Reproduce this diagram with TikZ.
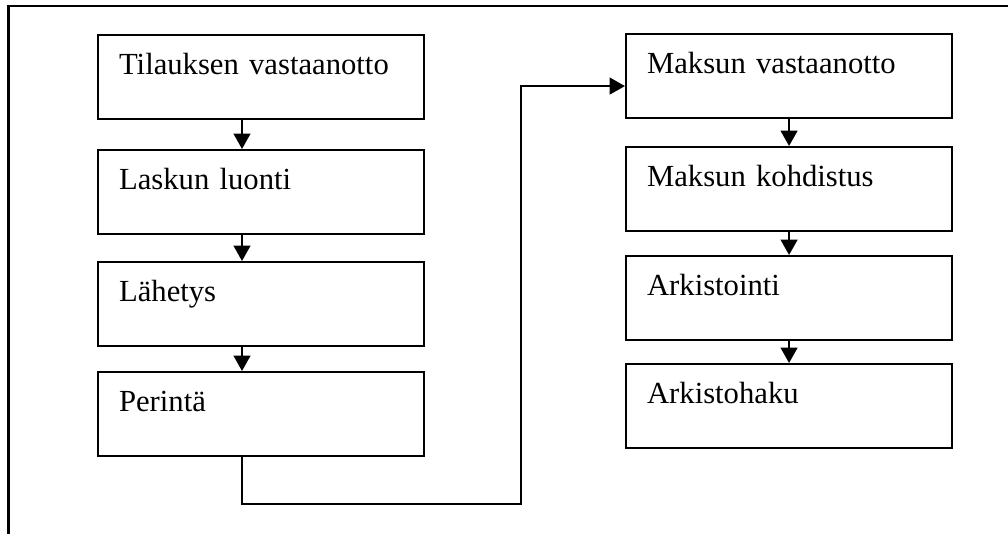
\documentclass[tikz,border=0pt]{standalone}
\usepackage{fontspec}
\setmainfont{Liberation Serif}
\usetikzlibrary{arrows.meta}
\tikzset{
  stepnode/.style={rectangle, draw=black, line width=1.6pt, fill=white, anchor=north west,
    inner xsep=15.75pt, inner ysep=0pt, text width=213pt, text height=29.5pt, text depth=33.5pt,
    align=left, font=\fontsize{23}{27}\selectfont},
  flowedge/.style={-{Triangle[length=11.5pt, width=12.5pt]}, draw=black, line width=1.6pt},
  frameline/.style={draw=black, line width=1.6pt},
}

\begin{document}
\begin{tikzpicture}[x=0.75pt, y=-0.75pt]
  \useasboundingbox (0,0) rectangle (1008,534);
  % frame (cut off at right and bottom)
  \draw[frameline] (8.5,540) -- (8.5,6) -- (1012,6);

  % left column
  \node[stepnode] (tilaus) at (97,34) {Tilauksen vastaanotto};
  \node[stepnode] (lasku) at (97,149) {Laskun luonti};
  \node[stepnode] (lahetys) at (97,261) {Lähetys};
  \node[stepnode] (perinta) at (97,371) {Perintä};

  % right column
  \node[stepnode] (maksuvast) at (625,33) {Maksun vastaanotto};
  \node[stepnode] (kohdistus) at (625,146) {Maksun kohdistus};
  \node[stepnode] (arkistointi) at (625,255) {Arkistointi};
  \node[stepnode] (arkistohaku) at (625,363) {Arkistohaku};

  \coordinate (lcol) at (242,0);
  \coordinate (jog) at (521,504);

  \draw[flowedge] (tilaus.south -| lcol) -- (lasku.north -| lcol);
  \draw[flowedge] (lasku.south -| lcol) -- (lahetys.north -| lcol);
  \draw[flowedge] (lahetys.south -| lcol) -- (perinta.north -| lcol);
  \draw[flowedge] (perinta.south -| lcol) |- (jog) |- ([yshift=-7.5pt]maksuvast.west);

  \draw[flowedge] (maksuvast) -- (kohdistus);
  \draw[flowedge] (kohdistus) -- (arkistointi);
  \draw[flowedge] (arkistointi) -- (arkistohaku);
\end{tikzpicture}
\end{document}
